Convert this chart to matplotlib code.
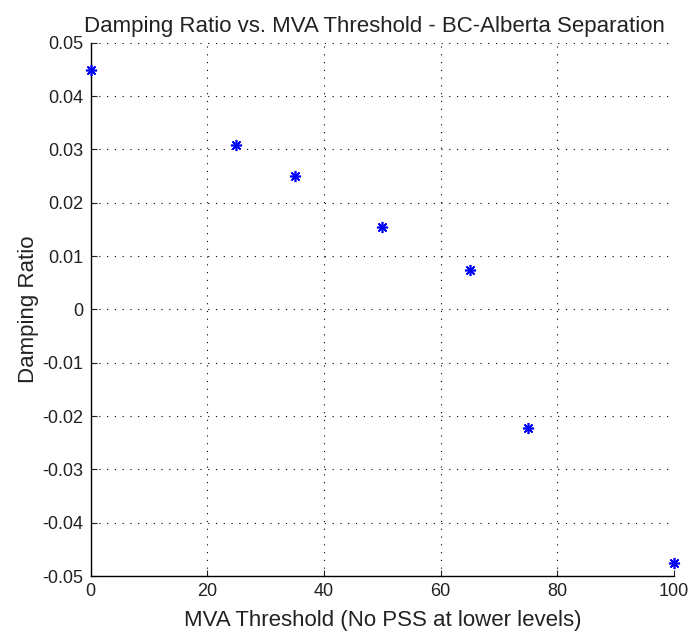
import numpy as np
import matplotlib
matplotlib.use('Agg')
import matplotlib.pyplot as plt

# ============================================================
# Data
# ============================================================
mva_threshold = [0, 25, 35, 50, 65, 75, 100]
damping_ratio = [0.0448, 0.0308, 0.0251, 0.0154, 0.0073, -0.0222, -0.0476]

x_ticks = [0, 20, 40, 60, 80, 100]
y_ticks = [0.05, 0.04, 0.03, 0.02, 0.01, 0, -0.01, -0.02, -0.03, -0.04, -0.05]
y_tick_labels = ['0.05', '0.04', '0.03', '0.02', '0.01', '0',
                 '-0.01', '-0.02', '-0.03', '-0.04', '-0.05']

plt.rcParams['font.family'] = ['Liberation Sans', 'DejaVu Sans']
tick_font = ['Liberation Sans Narrow', 'Liberation Sans', 'DejaVu Sans']

fig = plt.figure(figsize=(6.89, 6.33), dpi=100)
ax = fig.add_axes([0.1316, 0.090, 0.8464, 0.8425])

# MATLAB '*' marker: 8-armed asterisk
ax.plot(mva_threshold, damping_ratio, linestyle='none', marker=(8, 2, 0),
        color='#0000ff', markersize=8, markeredgewidth=1.2, clip_on=False, zorder=5)

ax.set_xlim(0, 100)
ax.set_ylim(-0.05, 0.05)
ax.set_xticks(x_ticks)
ax.set_yticks(y_ticks)
ax.set_yticklabels(y_tick_labels)

# MATLAB-like look: dotted grid, only left/bottom axis lines
ax.grid(True, linestyle=(0, (1, 6)), color='black', linewidth=0.8)
ax.spines['top'].set_visible(False)
ax.spines['right'].set_visible(False)
ax.spines['left'].set_linewidth(1.0)
ax.spines['bottom'].set_linewidth(1.0)
ax.tick_params(direction='in', length=4, width=0.8, labelsize=13,
               colors='#222222', pad=5)
for lab in ax.get_xticklabels() + ax.get_yticklabels():
    lab.set_family(tick_font)

ax.set_title('Damping Ratio vs. MVA Threshold - BC-Alberta Separation',
             fontsize=16, color='#222222', pad=8, x=0.486)
ax.set_xlabel('MVA Threshold (No PSS at lower levels)', fontsize=16,
              color='#222222', labelpad=7)
ax.set_ylabel('Damping Ratio', fontsize=16, color='#222222', labelpad=2.5)

plt.savefig('out.png', dpi=100)
